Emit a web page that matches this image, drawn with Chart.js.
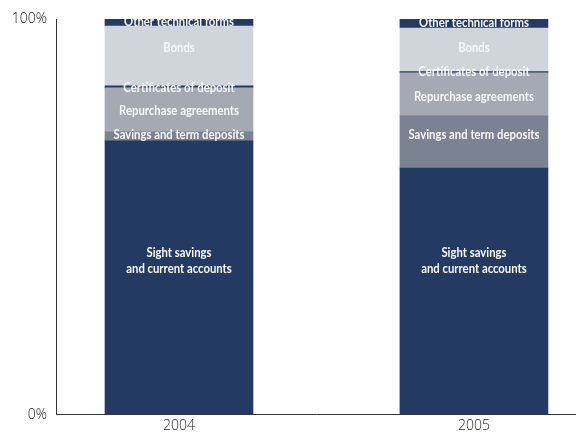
<!DOCTYPE html>
<html>
<head>
<meta charset="utf-8">
<script src="https://cdn.jsdelivr.net/npm/chart.js@4/dist/chart.umd.min.js"></script>
<style>
  html, body { margin: 0; padding: 0; background: #fff; }
  #wrap { width: 576px; height: 432px; }
</style>
</head>
<body>
<div id="wrap"><canvas id="chart"></canvas></div>
<script>
// years on the x axis
const years = ['2004', '2005'];

// shares of each instrument, in percent, bottom to top
const sight = [69.2, 62.3];
const savingsTerm = [2.3, 13.2];
const repos = [11.1, 10.9];
const certificates = [0.5, 0.3];
const bonds = [15.1, 11.0];
const otherForms = [1.8, 2.3];

const yTicks = [0, 100];

// where the text inside each segment sits (percent on the y scale)
const labelAt = [
  [38.9, 38.9],
  [70.7, 70.7],
  [76.8, 80.3],
  [82.6, 86.6],
  [92.7, 92.7],
  [99.2, 99.0]
];

const series = [
  { name: 'Sight savings\nand current accounts', values: sight, color: '#243a62' },
  { name: 'Savings and term deposits', values: savingsTerm, color: '#7b8292' },
  { name: 'Repurchase agreements', values: repos, color: '#a4a9b3' },
  { name: 'Certificates of deposit', values: certificates, color: '#243a62' },
  { name: 'Bonds', values: bonds, color: '#d0d4db' },
  { name: 'Other technical forms', values: otherForms, color: '#243a62' }
];

const segmentLabels = {
  id: 'segmentLabels',
  afterDatasetsDraw(chart) {
    const ctx = chart.ctx;
    const y = chart.scales.y;
    ctx.save();
    ctx.fillStyle = '#f7f8fa';
    ctx.textAlign = 'center';
    ctx.textBaseline = 'middle';
    ctx.font = 'bold 13px Lato, sans-serif';
    // narrow the face a little so the long labels fit in the bar
    const squeeze = 0.87;
    chart.data.datasets.forEach((ds, i) => {
      const meta = chart.getDatasetMeta(i);
      meta.data.forEach((bar, j) => {
        const lines = ds.label.split('\n');
        const cy = y.getPixelForValue(labelAt[i][j]);
        const lh = 16;
        lines.forEach((line, k) => {
          ctx.save();
          ctx.translate(bar.x, cy + (k - (lines.length - 1) / 2) * lh);
          ctx.scale(squeeze, 1);
          ctx.fillText(line, 0, 0);
          ctx.restore();
        });
      });
    });
    ctx.restore();
  }
};

new Chart(document.getElementById('chart').getContext('2d'), {
  type: 'bar',
  data: {
    datasets: series.map(s => ({
      label: s.name,
      data: s.values.map((v, i) => ({ x: i, y: v })),
      backgroundColor: s.color,
      borderWidth: 0,
      barThickness: 148
    }))
  },
  options: {
    responsive: true,
    maintainAspectRatio: false,
    animation: false,
    layout: { padding: { top: 19, right: 0, left: 0, bottom: 0 } },
    plugins: {
      legend: { display: false },
      tooltip: { enabled: false }
    },
    scales: {
      x: {
        type: 'linear',
        stacked: true,
        offset: false,
        min: -0.417,
        max: 1.346,
        grid: { display: false, drawTicks: false },
        border: { display: true, color: '#333333', width: 1 },
        afterBuildTicks: scale => { scale.ticks = years.map((_, i) => ({ value: i })); },
        afterFit: scale => { scale.height = 17; },
        ticks: {
          padding: 3,
          color: '#222222',
          font: { family: '"Open Sans", sans-serif', size: 14, weight: 300 },
          callback: v => years[v]
        }
      },
      y: {
        stacked: true,
        min: 0,
        max: 100,
        grid: { display: false, drawTicks: false },
        border: { display: true, color: '#333333', width: 1 },
        afterBuildTicks: scale => { scale.ticks = yTicks.map(v => ({ value: v })); },
        afterFit: scale => { scale.width = 56; },
        ticks: {
          padding: 9,
          color: '#222222',
          font: { family: '"Open Sans", sans-serif', size: 14, weight: 300 },
          callback: v => v + '%'
        }
      }
    }
  },
  plugins: [segmentLabels]
});
</script>
</body>
</html>
